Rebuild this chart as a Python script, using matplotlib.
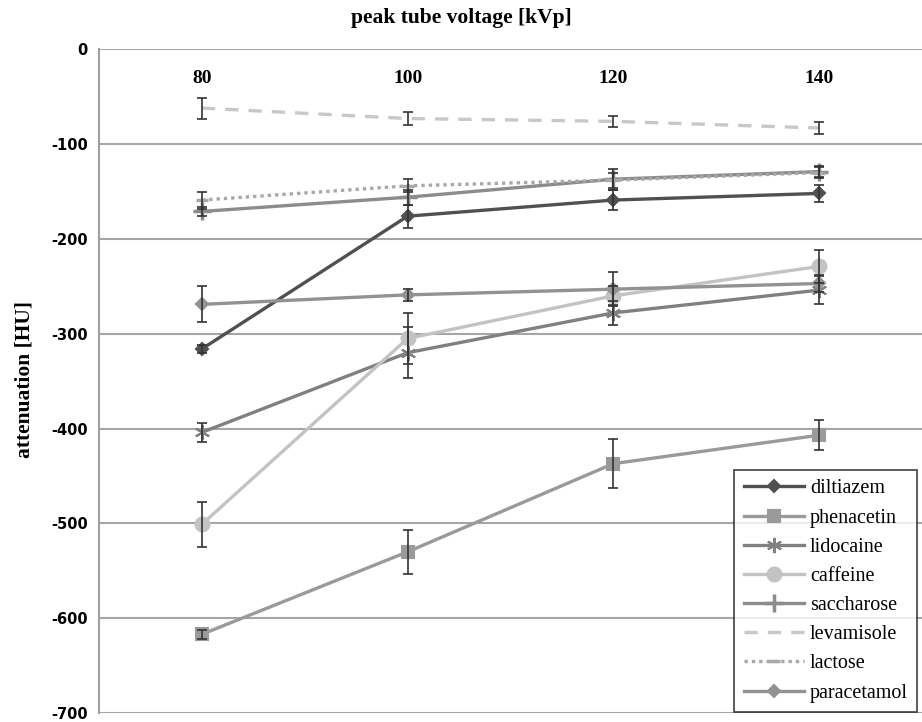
import matplotlib
matplotlib.use("Agg")
import matplotlib.pyplot as plt
import numpy as np

kvp = ["80", "100", "120", "140"]
series_names = ["diltiazem", "phenacetin", "lidocaine", "caffeine",
                "saccharose", "levamisole", "lactose", "paracetamol"]
diltiazem = [-316, -176, -159, -152]
diltiazem_err = [4, 12, 11, 9]
phenacetin = [-617, -530, -437, -407]
phenacetin_err = [5, 23, 26, 16]
lidocaine = [-404, -320, -278, -254]
lidocaine_err = [10, 27, 13, 15]
caffeine = [-501, -305, -260, -229]
caffeine_err = [24, 27, 10, 17]
saccharose = [-171, -156, -137, -129]
saccharose_err = [5, 8, 11, 6]
levamisole = [-62, -73, -76, -83]
levamisole_err = [11, 6.5, 6, 6.5]
lactose = [-159, -144, -138, -130]
lactose_err = [9, 7, 8, 6]
paracetamol = [-269, -259, -253, -247]
paracetamol_err = [19, 6, 18, 9]

values = [diltiazem, phenacetin, lidocaine, caffeine, saccharose, levamisole, lactose, paracetamol]
errors = [diltiazem_err, phenacetin_err, lidocaine_err, caffeine_err, saccharose_err,
          levamisole_err, lactose_err, paracetamol_err]

styles = [
    dict(color="#505050", ls="-", marker="D", ms=6.5),
    dict(color="#9a9a9a", ls="-", marker="s", ms=9),
    dict(color="#808080", ls="-", marker=(6, 2, 0), ms=11),
    dict(color="#c3c3c3", ls="-", marker="o", ms=10),
    dict(color="#8c8c8c", ls="-", marker="+", ms=13),
    dict(color="#c8c8c8", ls=(0, (4, 3)), marker=None, ms=0),
    dict(color="#a8a8a8", ls=(0, (1, 1.2)), marker="_", ms=9),
    dict(color="#929292", ls="-", marker="D", ms=6.5),
]

fig = plt.figure(figsize=(9.22, 7.22), dpi=100)
ax = fig.add_axes([99 / 922, 1 - 713 / 722, 1 - 99 / 922, (713 - 49.3) / 722])

x = np.arange(1, len(kvp) + 1)
for name, v, e, st in zip(series_names, values, errors, styles):
    ax.plot(x, v, color=st["color"], ls=st["ls"], lw=2.4, marker=st["marker"],
            ms=st["ms"], mfc=st["color"], mec=st["color"],
            mew=1.5 if st["marker"] not in ("+", "_") else 2.5,
            label=name, zorder=3)
    ax.errorbar(x, v, yerr=e, fmt="none", ecolor="#333333", elinewidth=1.2,
                capsize=3.5, capthick=1.2, zorder=4)

ax.set_xlim(0.5, 4.5)
ax.set_ylim(-700, 0)
ax.set_yticks(np.arange(-700, 1, 100))
ax.set_yticklabels([str(t) for t in np.arange(-700, 1, 100)],
                   fontfamily="DejaVu Sans", fontweight="bold", fontsize=10.5)
ax.yaxis.grid(True, color="#a6a6a6", lw=1.5)
ax.set_axisbelow(True)

ax.set_xticks(x)
ax.set_xticklabels(kvp, fontfamily="Liberation Serif", fontweight="bold", fontsize=14)
ax.tick_params(axis="x", top=True, labeltop=True, bottom=False, labelbottom=False,
               length=0, pad=-27)
ax.tick_params(axis="y", length=0, pad=8)

for s in ["top", "right", "bottom"]:
    ax.spines[s].set_visible(False)
ax.spines["left"].set_color("#a0a0a0")
ax.spines["left"].set_linewidth(1.5)

fig.text(0.5, 1 - 18 / 722, "peak tube voltage [kVp]", ha="center", va="center",
         fontfamily="Liberation Serif", fontweight="bold", fontsize=15.5)
fig.text(25 / 922, 1 - 380 / 722, "attenuation [HU]", ha="center", va="center",
         rotation=90, fontfamily="Liberation Serif", fontweight="bold", fontsize=15.5)

leg = ax.legend(loc="lower right", bbox_to_anchor=(0.994, 0.002), borderaxespad=0,
                prop=dict(family="Liberation Serif", size=14.5), frameon=True,
                fancybox=False, edgecolor="#222222", handlelength=3.0,
                labelspacing=0.5, borderpad=0.45, handletextpad=0.3)
leg.get_frame().set_linewidth(1.3)

fig.savefig("out.png", dpi=100, facecolor="white")
